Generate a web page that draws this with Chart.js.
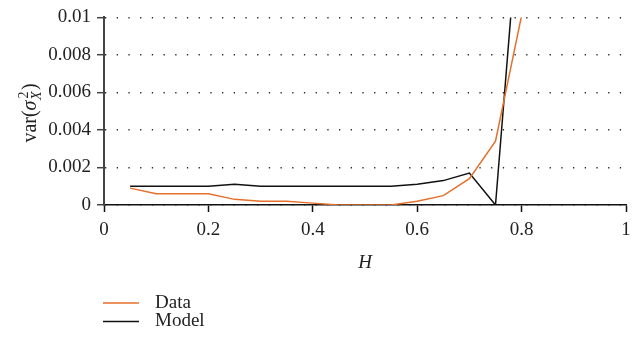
<!DOCTYPE html>
<html>
<head>
<meta charset="utf-8">
<script src="https://cdn.jsdelivr.net/npm/chart.js@4.4.1/dist/chart.umd.min.js"></script>
<style>
  html, body { margin: 0; padding: 0; background: #ffffff; }
  #wrap { width: 638px; height: 340px; position: relative; }
</style>
</head>
<body>
<div id="wrap"><canvas id="chart" width="638" height="340"></canvas></div>
<script>
// Hurst exponent grid
const hValues = [0.05, 0.1, 0.15, 0.2, 0.25, 0.3, 0.35, 0.4, 0.45, 0.5, 0.55, 0.6, 0.65, 0.7, 0.75, 0.8];
// Variance of the estimated sigma_X^2, measured
const dataVar = [0.0009, 0.0006, 0.0006, 0.0006, 0.0003, 0.0002, 0.0002, 0.0001, 0, 0, 0, 0.0002, 0.0005, 0.0014, 0.0034, 0.0101];
// Variance predicted by the model
const modelVar = [0.001, 0.001, 0.001, 0.001, 0.0011, 0.001, 0.001, 0.001, 0.001, 0.001, 0.001, 0.0011, 0.0013, 0.0017, 0, 0.0172];
// Axis tick labels
const xTickLabels = ['0', '0.2', '0.4', '0.6', '0.8', '1'];
const yTickLabels = ['0', '0.002', '0.004', '0.006', '0.008', '0.01'];
const seriesNames = ['Data', 'Model'];

const SERIF = "'Liberation Serif', 'DejaVu Serif', serif";
const ORANGE = '#e5702b';
const BLACK = '#111111';

const toPoints = (ys) => hValues.map((h, i) => ({ x: h, y: ys[i] }));

// Rotated y-axis title: var(σ with stacked ² and subscript X)
const yTitlePlugin = {
  id: 'yTitle',
  afterDraw(chart) {
    const ctx = chart.ctx;
    const area = chart.chartArea;
    const cy = (area.top + area.bottom) / 2 + 2;
    const big = "20px " + SERIF;
    const bigIt = "italic 20px " + SERIF;
    const small = "14px " + SERIF;
    const smallIt = "italic 14px " + SERIF;
    ctx.save();
    ctx.font = big; const w1 = ctx.measureText('var(').width;
    ctx.font = bigIt; const w2 = ctx.measureText('σ').width;
    ctx.font = small; const w3a = ctx.measureText('2').width;
    ctx.font = smallIt; const w3b = ctx.measureText('X').width;
    const w3 = Math.max(w3a, w3b) + 1.5;
    ctx.font = big; const w4 = ctx.measureText(')').width;
    const total = w1 + w2 + w3 + w4;
    ctx.translate(36, cy);
    ctx.rotate(-Math.PI / 2);
    ctx.fillStyle = '#222';
    ctx.textBaseline = 'alphabetic';
    ctx.textAlign = 'left';
    let x = -total / 2;
    ctx.font = big; ctx.fillText('var(', x, 0); x += w1;
    ctx.font = bigIt; ctx.fillText('σ', x, 0); x += w2 + 0.5;
    ctx.font = small; ctx.fillText('2', x + 1.5, -8.5);
    ctx.font = smallIt; ctx.fillText('X', x, 4.5);
    x += w3;
    ctx.font = big; ctx.fillText(')', x, 0);
    ctx.restore();
  }
};

// Vertical legend under the x-axis title
const legendPlugin = {
  id: 'stackedLegend',
  afterDraw(chart) {
    const ctx = chart.ctx;
    ctx.save();
    chart.data.datasets.forEach((ds, i) => {
      const y = 303 + i * 18.5;
      ctx.strokeStyle = ds.borderColor;
      ctx.lineWidth = 1.5;
      ctx.beginPath();
      ctx.moveTo(103, y);
      ctx.lineTo(139, y);
      ctx.stroke();
      ctx.fillStyle = '#222';
      ctx.font = "19px " + SERIF;
      ctx.textBaseline = 'middle';
      ctx.textAlign = 'left';
      ctx.fillText(ds.label, 155, y);
    });
    ctx.restore();
  }
};

new Chart(document.getElementById('chart'), {
  type: 'line',
  data: {
    datasets: [
      { label: seriesNames[0], data: toPoints(dataVar), borderColor: ORANGE, borderWidth: 1.5, pointRadius: 0, tension: 0, fill: false },
      { label: seriesNames[1], data: toPoints(modelVar), borderColor: BLACK, borderWidth: 1.5, pointRadius: 0, tension: 0, fill: false }
    ]
  },
  options: {
    responsive: false,
    animation: false,
    events: [],
    layout: { padding: { left: 0, right: 12, top: 17, bottom: 0 } },
    plugins: {
      legend: { display: false },
      tooltip: { enabled: false }
    },
    scales: {
      x: {
        type: 'linear',
        min: 0,
        max: 1,
        ticks: {
          stepSize: 0.2,
          padding: 7,
          color: '#222',
          font: { family: SERIF, size: 19 },
          maxRotation: 0,
          callback: (v) => xTickLabels[Math.round(v / 0.2)]
        },
        grid: { drawOnChartArea: false, drawTicks: true, tickLength: 7, tickColor: BLACK, tickWidth: 1.5 },
        border: { display: true, color: BLACK, width: 1.5 },
        title: { display: true, text: 'H', color: '#222', font: { family: SERIF, size: 19, style: 'italic' }, padding: { top: 0, bottom: 66 } },
        afterFit: (scale) => { scale.height = 135; }
      },
      y: {
        type: 'linear',
        min: 0,
        max: 0.01,
        ticks: {
          stepSize: 0.002,
          padding: 6,
          color: '#222',
          font: { family: SERIF, size: 19 },
          callback: (v) => yTickLabels[Math.round(v / 0.002)]
        },
        grid: {
          drawOnChartArea: true,
          color: '#2a2a2a',
          lineWidth: 1.4,
          drawTicks: true,
          tickLength: 7,
          tickColor: '#444',
          tickWidth: 1.5,
          tickBorderDash: []
        },
        border: { display: true, color: '#444', width: 2, dash: [1.3, 10.4] },
        afterFit: (scale) => { scale.width = 104; }
      }
    }
  },
  plugins: [yTitlePlugin, legendPlugin]
});
</script>
</body>
</html>
